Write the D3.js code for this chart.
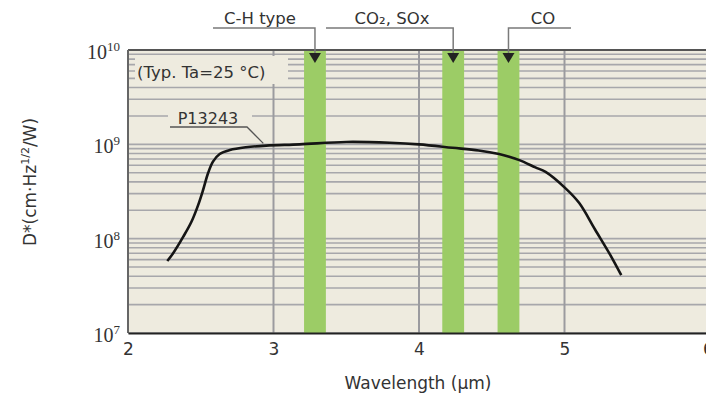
<!DOCTYPE html>
<html>
<head>
<meta charset="utf-8">
<script src="https://cdn.jsdelivr.net/npm/d3@7"></script>
<style>
  html, body { margin: 0; padding: 0; background: #ffffff; }
  svg { display: block; }
</style>
</head>
<body>
<script>
// wavelength (um) and D* (cm*Hz^1/2/W)
const wavelength = [2.27, 2.31, 2.38, 2.436, 2.482, 2.516, 2.55, 2.584, 2.63, 2.7, 2.81, 2.95, 3.18, 3.5, 3.8, 4.0, 4.23, 4.41, 4.55, 4.62, 4.69, 4.8, 4.87, 5.0, 5.1, 5.21, 5.32, 5.39];
const dstar = [5.8e7, 7.0e7, 1.05e8, 1.51e8, 2.27e8, 3.28e8, 4.93e8, 6.55e8, 7.9e8, 8.7e8, 9.3e8, 9.7e8, 1.0e9, 1.06e9, 1.04e9, 1.0e9, 9.2e8, 8.6e8, 7.9e8, 7.4e8, 6.8e8, 5.7e8, 5.1e8, 3.5e8, 2.4e8, 1.25e8, 6.5e7, 4.1e7];

// gas absorption bands
const bandNames = ["C-H type", "CO₂, SOx", "CO"];
const bandStart = [3.21, 4.16, 4.54];
const bandEnd = [3.36, 4.31, 4.69];

const xTicks = [2, 3, 4, 5, 6];
const yDecades = [7, 8, 9, 10];

const width = 706;
const height = 396;
const margin = { top: 50, right: -4, bottom: 63, left: 128 };

const xScale = d3.scaleLinear().domain([2, 6]).range([margin.left, width - margin.right]);
const yScale = d3.scaleLog().domain([1e7, 1e10]).range([height - margin.bottom, margin.top]);

const svg = d3.select("body").append("svg")
  .attr("width", width)
  .attr("height", height)
  .attr("viewBox", [0, 0, width, height]);

const sans = "'DejaVu Sans', Verdana, sans-serif";
const textColor = "#333";

// plot background
svg.append("rect")
  .attr("x", margin.left)
  .attr("y", margin.top)
  .attr("width", xScale(6) - margin.left)
  .attr("height", yScale(1e7) - yScale(1e10))
  .attr("fill", "#eeebdf");

// horizontal log grid
svg.append("g")
  .selectAll("line")
  .data(yScale.ticks())
  .join("line")
  .attr("x1", margin.left)
  .attr("x2", xScale(6))
  .attr("y1", (d) => yScale(d))
  .attr("y2", (d) => yScale(d))
  .attr("stroke", "#a7a7ab")
  .attr("stroke-width", 1.6);

// vertical grid
svg.append("g")
  .selectAll("line")
  .data(xTicks.slice(1))
  .join("line")
  .attr("x1", (d) => xScale(d))
  .attr("x2", (d) => xScale(d))
  .attr("y1", margin.top)
  .attr("y2", yScale(1e7))
  .attr("stroke", "#9b9b9f")
  .attr("stroke-width", 2);

// absorption bands
svg.append("g")
  .selectAll("rect")
  .data(bandStart)
  .join("rect")
  .attr("x", (d) => xScale(d))
  .attr("y", margin.top)
  .attr("width", (d, i) => xScale(bandEnd[i]) - xScale(d))
  .attr("height", yScale(1e7) - margin.top)
  .attr("fill", "#9ccc66");

// frame
svg.append("line")
  .attr("x1", margin.left).attr("x2", xScale(6))
  .attr("y1", margin.top).attr("y2", margin.top)
  .attr("stroke", "#555").attr("stroke-width", 2);
svg.append("line")
  .attr("x1", margin.left).attr("x2", margin.left)
  .attr("y1", margin.top).attr("y2", yScale(1e7))
  .attr("stroke", "#666").attr("stroke-width", 2);

// x axis
const xAxis = d3.axisBottom(xScale)
  .tickValues(xTicks)
  .tickFormat(d3.format("d"))
  .tickSize(0)
  .tickPadding(10);
const xg = svg.append("g")
  .attr("transform", `translate(0,${yScale(1e7)})`)
  .call(xAxis);
xg.select(".domain").attr("stroke", "#222").attr("stroke-width", 2.2);
xg.selectAll("text")
  .attr("font-family", sans)
  .attr("font-size", 17)
  .attr("fill", textColor)
  // last label sits at the cropped right edge
  .attr("dx", (d) => (d === 6 ? -2 : 0));

// y labels, 10^n
const yLabels = svg.append("g")
  .selectAll("text")
  .data(yDecades)
  .join("text")
  .attr("x", margin.left - 8)
  .attr("y", (d) => yScale(Math.pow(10, d)) + 9)
  .attr("text-anchor", "end")
  .attr("font-family", "'Liberation Serif', 'Times New Roman', serif")
  .attr("font-size", 20)
  .attr("fill", textColor);
yLabels.append("tspan").text("10");
yLabels.append("tspan")
  .attr("dy", -8)
  .attr("font-size", 13)
  .text((d) => d);

// axis titles
svg.append("text")
  .attr("x", 418)
  .attr("y", 389)
  .attr("text-anchor", "middle")
  .attr("font-family", sans)
  .attr("font-size", 17)
  .attr("fill", textColor)
  .text("Wavelength (μm)");

const yTitle = svg.append("text")
  .attr("transform", "translate(36,182) rotate(-90)")
  .attr("text-anchor", "middle")
  .attr("font-family", sans)
  .attr("font-size", 17)
  .attr("fill", textColor);
yTitle.append("tspan").text("D*(cm·Hz");
yTitle.append("tspan").attr("dy", -7).attr("font-size", 11).text("1/2");
yTitle.append("tspan").attr("dy", 7).text("/W)");

// the response curve
const line = d3.line()
  .curve(d3.curveCatmullRom.alpha(0.5))
  .x((d, i) => xScale(wavelength[i]))
  .y((d) => yScale(d));
svg.append("path")
  .attr("d", line(dstar))
  .attr("fill", "none")
  .attr("stroke", "#151515")
  .attr("stroke-width", 2.6)
  .attr("stroke-linejoin", "round");

// condition note
svg.append("rect")
  .attr("x", 135).attr("y", 56)
  .attr("width", 153).attr("height", 28)
  .attr("fill", "#eeebdf");
svg.append("text")
  .attr("x", 137)
  .attr("y", 78)
  .attr("font-family", sans)
  .attr("font-size", 16.5)
  .attr("fill", textColor)
  .text("(Typ. Ta=25 °C)");

// curve label
svg.append("rect")
  .attr("x", 168).attr("y", 107)
  .attr("width", 84).attr("height", 19)
  .attr("fill", "#eeebdf");
svg.append("text")
  .attr("x", 208)
  .attr("y", 124)
  .attr("text-anchor", "middle")
  .attr("font-family", sans)
  .attr("font-size", 16)
  .attr("fill", textColor)
  .text("P13243");
svg.append("path")
  .attr("d", d3.line()([[170, 127], [247, 127], [xScale(2.93), yScale(9.75e8) - 2]]))
  .attr("fill", "none")
  .attr("stroke", "#555")
  .attr("stroke-width", 1.3);

// band labels with leader lines and arrows
const leaderY = 28;
const labelX = [260, 392, 543];
const lineEnd = [213, 326, 571];
const bands = svg.append("g");
bandNames.forEach((name, i) => {
  const cx = xScale((bandStart[i] + bandEnd[i]) / 2);
  bands.append("path")
    .attr("d", d3.line()([[lineEnd[i], leaderY], [cx, leaderY], [cx, margin.top + 4]]))
    .attr("fill", "none")
    .attr("stroke", "#7a7a7a")
    .attr("stroke-width", 1.5);
  bands.append("path")
    .attr("d", `M${cx - 6},${margin.top + 3}L${cx + 6},${margin.top + 3}L${cx},${margin.top + 13}Z`)
    .attr("fill", "#222");
  bands.append("text")
    .attr("x", labelX[i])
    .attr("y", 24)
    .attr("text-anchor", "middle")
    .attr("font-family", sans)
    .attr("font-size", 16.5)
    .attr("fill", textColor)
    .text(name);
});
</script>
</body>
</html>
